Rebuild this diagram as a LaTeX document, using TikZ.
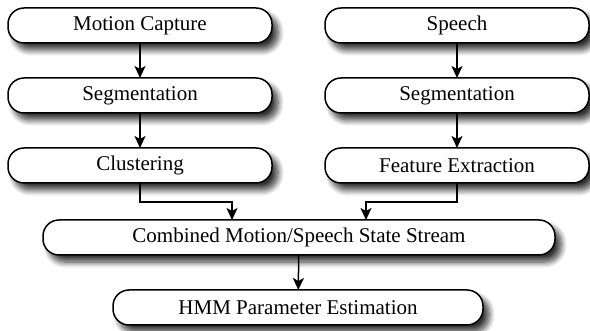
\documentclass[tikz,border=0pt]{standalone}
\usepackage{fontspec}
\setmainfont{Liberation Serif}
\usetikzlibrary{arrows.meta,calc,shadows.blur}

\begin{document}
\begin{tikzpicture}[
  x=0.5pt,y=-0.5pt,
  box/.style={draw,fill=white,rounded corners=8pt,minimum height=17.5pt,
              minimum width=132pt,line width=0.75pt,outer sep=0pt,
              font=\fontsize{10.5}{12}\selectfont,
              blur shadow={shadow xshift=3pt,shadow yshift=-3.5pt,
                           shadow blur radius=3pt,
                           shadow blur steps=10,shadow opacity=80}},
  arr/.style={-{Stealth[length=6pt,width=5.5pt,inset=1.5pt]},line width=0.75pt}
]
\useasboundingbox (0,0) rectangle (590,331);
% Motion branch
\node[box] (mocap) at (140,25.5) {Motion Capture};
\node[box] (mseg) at (140,95.5) {Segmentation};
\node[box] (clus) at (140,165.5) {Clustering};
% Speech branch
\node[box] (speech) at (457,25.5) {Speech};
\node[box] (sseg) at (457,95.5) {Segmentation};
\node[box] (feat) at (457,165.5) {Feature Extraction};
% Combined stream
\node[box,minimum width=256pt] (comb) at (299,237.5)
  {Combined Motion/Speech State Stream};
% HMM
\node[box,minimum width=185pt] (hmm) at (298,307.5)
  {HMM Parameter Estimation};
% Arrows
\draw[arr] (mocap) -- (mseg);
\draw[arr] (mseg) -- (clus);
\draw[arr] (speech) -- (sseg);
\draw[arr] (sseg) -- (feat);
\draw[arr] (clus.south) -- ++(0,19) -| ($(comb.north)+(-67,0)$);
\draw[arr] (feat.south) -- ++(0,19) -| ($(comb.north)+(67,0)$);
\draw[arr] (comb) -- (hmm);
\end{tikzpicture}
\end{document}
